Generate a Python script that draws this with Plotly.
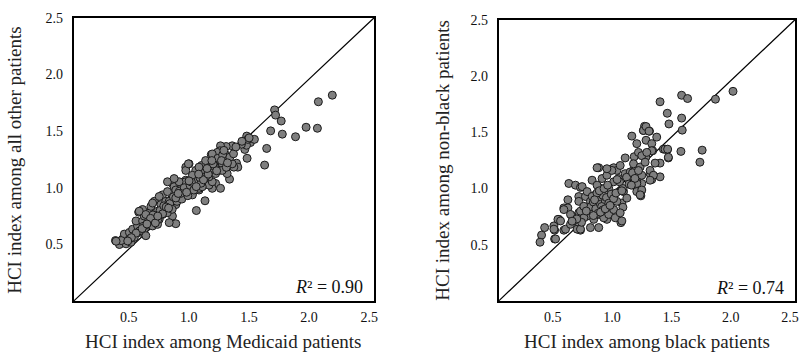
import plotly.graph_objects as go

# ---- Panel A: Medicaid vs all other patients ----
medicaid_x = [2.152, 2.036, 2.028, 1.934, 1.846, 1.736, 1.727, 1.639, 1.672, 1.680, 1.606, 1.589,
              1.443, 1.440, 1.471, 1.504, 1.424, 1.438, 1.396, 1.449, 1.319, 1.269, 1.222, 1.217,
              1.291, 1.355, 1.366, 1.297, 1.333, 1.264, 1.195, 1.145, 1.181, 1.236, 1.140, 1.098,
              1.209, 1.277, 1.153, 1.126, 1.070, 1.016, 1.065, 0.960, 0.933, 1.181, 1.222, 1.153,
              1.043, 1.098, 1.002, 0.933, 0.877, 0.822,
              0.348, 0.408, 0.381, 0.436, 0.477, 0.422, 0.464, 0.505, 0.491, 0.532, 0.546, 0.588,
              0.519, 0.574, 0.541, 0.588, 0.615, 0.629, 0.657, 0.643, 0.671, 0.698, 0.684, 0.726,
              0.739, 0.739, 0.712, 0.781, 0.767, 0.795, 0.809, 0.781, 0.836, 0.863, 0.850, 0.767,
              0.850, 0.892, 0.905, 0.933, 0.960, 0.988, 1.021, 1.093, 1.002, 1.043, 1.084, 1.126,
              1.153, 0.933, 0.988, 0.877, 0.836, 0.574, 0.464, 0.395, 0.601, 0.657, 0.698, 0.822,
              0.795,
              0.955, 1.043, 1.098, 1.153, 0.546, 0.353, 0.795, 0.712, 0.657, 0.601, 0.850, 0.877,
              0.960, 1.016, 0.988, 1.070, 1.126, 1.181, 1.236, 1.264, 1.319,
              0.62, 0.66, 0.70, 0.72, 0.75, 0.78, 0.80, 0.83, 0.86, 0.88, 0.90, 0.92, 0.95, 0.97,
              1.00, 1.03, 1.06, 1.10, 1.13, 1.17, 1.20, 1.24, 1.27, 1.30, 1.33, 0.55, 0.58, 0.52,
              0.48, 0.45,
              0.64, 0.68, 0.74, 0.77, 0.82, 0.85, 0.89, 0.94, 0.98, 1.02, 1.05, 1.08, 1.12, 1.16,
              1.19, 1.23, 1.28, 1.35, 1.40, 1.46, 0.57, 0.61, 0.70, 0.79, 0.87, 0.96, 1.04, 1.11,
              1.15, 1.25]
others_y = [1.817, 1.759, 1.525, 1.534, 1.450, 1.473, 1.589, 1.502, 1.687, 1.641, 1.347, 1.200,
            1.260, 1.456, 1.399, 1.427, 1.338, 1.375, 1.384, 1.427, 1.370, 1.364, 1.370, 1.326,
            1.263, 1.217, 1.182, 1.076, 1.182, 1.292, 1.312, 1.292, 1.240, 1.211, 1.211, 1.182,
            1.153, 1.125, 1.139, 1.096, 1.125, 1.153, 1.197, 1.211, 1.182, 1.038, 0.995, 0.995,
            0.980, 1.038, 1.067, 1.067, 1.038, 1.038,
            0.534, 0.548, 0.499, 0.505, 0.519, 0.591, 0.606, 0.562, 0.634, 0.663, 0.606, 0.634,
            0.707, 0.707, 0.785, 0.750, 0.677, 0.779, 0.721, 0.836, 0.880, 0.793, 0.750, 0.851,
            0.937, 0.764, 0.721, 0.966, 0.880, 0.822, 0.894, 1.053, 1.009, 0.937, 0.851, 0.779,
            0.683, 1.009, 0.952, 1.053, 0.995, 0.952, 0.799, 0.885, 1.053, 0.995, 1.081, 1.023,
            1.053, 1.153, 1.110, 1.053, 1.081, 0.808, 0.548, 0.534, 0.577, 0.663, 0.677, 0.750,
            0.692,
            1.211, 1.182, 1.240, 1.298, 0.793, 0.528, 0.880, 0.923, 0.865, 0.764, 0.980, 0.923,
            0.980, 1.038, 0.937, 1.009, 1.096, 1.125, 1.153, 1.240, 1.211,
            0.70, 0.76, 0.72, 0.80, 0.84, 0.78, 0.86, 0.92, 0.88, 0.97, 0.90, 1.00, 0.93, 1.02,
            0.98, 1.06, 1.04, 1.10, 1.15, 1.19, 1.26, 1.29, 1.18, 1.27, 1.30, 0.62, 0.66, 0.60,
            0.56, 0.53,
            0.73, 0.69, 0.77, 0.83, 0.81, 0.91, 0.95, 0.96, 1.05, 1.01, 1.09, 1.07, 1.12, 1.21,
            1.15, 1.24, 1.22, 1.36, 1.41, 1.44, 0.64, 0.68, 0.75, 0.82, 0.95, 1.06, 1.12, 1.17,
            1.24, 1.33]

# ---- Panel B: black vs non-black patients ----
black_x = [1.977, 1.829, 1.544, 1.594, 1.362, 1.423, 1.544, 1.437, 1.549, 1.538, 1.717, 1.698,
           1.432, 1.423, 1.390, 1.362, 1.362, 1.320, 1.334, 1.231, 1.222, 1.273, 1.124, 1.166,
           1.244, 1.292, 1.300, 1.242, 1.144, 1.068, 0.845, 0.923, 0.971, 0.998, 0.593, 0.649,
           0.691, 1.200, 1.200, 1.166, 1.208, 1.292, 1.278, 1.040, 1.049, 1.032, 0.914, 0.864,
           0.831, 0.677, 0.671, 0.691, 0.585, 0.551, 0.509, 0.467, 0.473, 0.551, 0.473, 0.389,
           0.363, 0.350, 0.585, 0.621, 0.677,
           0.705, 0.467, 0.481, 0.565, 0.501, 0.551, 0.607, 0.523, 0.635, 0.663, 0.691, 0.677,
           0.733, 0.747, 0.775, 0.691, 0.747, 0.775, 0.817, 0.845, 0.845, 0.887, 0.803, 0.859,
           0.887, 0.914, 0.929, 0.971, 0.929, 0.956, 0.998, 0.984, 1.040, 1.026, 1.012, 1.068,
           1.110, 1.166, 1.166, 1.208, 1.138, 1.054, 1.082, 0.789, 0.831, 0.873, 0.914, 0.956,
           0.971, 0.719, 0.607, 0.775, 0.845,
           1.222, 1.244, 1.269, 1.292, 1.404, 1.426, 1.432, 1.180, 1.208, 1.250, 1.138, 1.194,
           1.236, 1.278, 1.306, 1.026, 0.914, 1.110, 1.166, 1.208, 1.194, 1.278,
           0.78, 0.80, 0.82, 0.84, 0.86, 0.88, 0.90, 0.79, 0.83, 0.87, 0.91, 0.85, 0.81, 0.89,
           0.93, 0.95, 0.97, 0.92, 0.88, 0.84, 0.80, 0.86, 0.90, 0.94, 0.99, 1.02, 1.05, 1.08,
           1.10, 1.13, 0.72, 0.74, 0.70, 0.66, 0.62, 1.00, 1.04, 1.15, 1.18, 1.12]
nonblack_y = [1.864, 1.794, 1.829, 1.800, 1.771, 1.669, 1.626, 1.574, 1.519, 1.330, 1.341, 1.234,
              1.272, 1.344, 1.350, 1.104, 1.226, 1.226, 1.457, 1.553, 1.516, 1.510, 1.466, 1.399,
              1.429, 1.399, 1.336, 1.278, 1.283, 1.272, 1.185, 1.170, 1.185, 1.161, 1.045, 1.030,
              1.010, 0.967, 0.935, 1.002, 1.045, 1.080, 1.132, 0.871, 0.834, 0.697, 0.726, 0.877,
              1.185, 0.784, 0.639, 0.630, 0.900, 0.828, 0.726, 0.668, 0.630, 0.630, 0.552, 0.653,
              0.586, 0.523, 0.828, 0.755, 0.929,
              1.017, 0.639, 0.552, 0.639, 0.726, 0.813, 0.770, 0.712, 0.712, 0.639, 0.639, 0.886,
              0.929, 0.973, 0.886, 0.799, 0.755, 0.813, 0.944, 0.856, 0.770, 0.740, 0.726, 1.002,
              0.929, 0.842, 0.770, 0.813, 1.002, 0.929, 0.886, 0.740, 0.712, 0.784, 1.089, 1.132,
              1.045, 0.973, 1.060, 1.118, 1.161, 0.973, 0.915, 1.074, 1.030, 1.089, 1.118, 1.161,
              1.060, 0.842, 0.682, 0.653, 0.653,
              1.516, 1.551, 1.510, 1.336, 1.350, 1.350, 1.278, 1.321, 1.292, 1.321, 1.220, 1.191,
              1.234, 1.161, 1.118, 1.205, 1.176, 1.147, 1.045, 0.987, 0.944, 1.074,
              0.84, 0.88, 0.82, 0.90, 0.86, 0.94, 0.88, 0.93, 0.96, 0.84, 0.92, 0.98, 0.90, 1.00,
              0.87, 0.95, 0.91, 1.03, 0.81, 0.78, 0.76, 0.79, 0.82, 0.85, 0.96, 1.06, 1.00, 1.10,
              1.04, 1.14, 0.74, 0.80, 0.70, 0.73, 0.71, 1.08, 0.98, 1.09, 1.16, 1.03]

tick_vals = [0.5, 1.0, 1.5, 2.0, 2.5]
tick_text = ["0.5", "1.0", "1.5", "2.0", "2.5"]
r2_labels = ["<i>R</i>² = 0.90", "<i>R</i>² = 0.74"]
x_titles = ["HCI index among Medicaid patients", "HCI index among black patients"]
y_titles = ["HCI index among all other patients", "HCI index among non-black patients"]

W, H = 805, 354
FONT = "Liberation Serif, Times New Roman, serif"

marker = dict(size=8, color="#7f7f7f", line=dict(color="#1a1a1a", width=1))

fig = go.Figure()
fig.add_trace(go.Scatter(x=medicaid_x, y=others_y, mode="markers", marker=marker,
                         xaxis="x", yaxis="y", showlegend=False))
fig.add_trace(go.Scatter(x=black_x, y=nonblack_y, mode="markers", marker=marker,
                         xaxis="x2", yaxis="y2", showlegend=False))

# panel pixel boxes: (left, right, top, bottom)
boxes = [(74, 376, 11, 300), (501, 799, 13, 300)]

def axis_common():
    return dict(range=[0, 2.5], tickvals=tick_vals, ticktext=tick_text, showgrid=False,
                zeroline=False, showline=True, mirror=True, linecolor="black", linewidth=1.5,
                ticks="", tickfont=dict(family=FONT, size=14, color="#111"))

for i, (l, r, t, b) in enumerate(boxes):
    sfx = "" if i == 0 else "2"
    xa = axis_common()
    xa.update(domain=[l / W, r / W], anchor="y" + sfx, ticklabelshift=-5, ticklabelstandoff=2)
    ya = axis_common()
    ya.update(domain=[(H - b) / H, (H - t) / H], anchor="x" + sfx, ticklabelstandoff=6)
    fig.update_layout(**{"xaxis" + sfx: xa, "yaxis" + sfx: ya})
    # diagonal y = x
    fig.add_shape(type="line", x0=0, y0=0, x1=2.5, y1=2.5, xref="x" + sfx, yref="y" + sfx,
                  line=dict(color="black", width=1.2), layer="below")
    fig.add_annotation(text=r2_labels[i], x=2.42, y=0.12, xref="x" + sfx, yref="y" + sfx,
                       xanchor="right", yanchor="middle", showarrow=False,
                       font=dict(family=FONT, size=18, color="#111"))
    fig.add_annotation(text=x_titles[i], x=(l + r) / 2 / W, y=(H - 341) / H, xref="paper",
                       yref="paper", xanchor="center", yanchor="middle", showarrow=False,
                       font=dict(family=FONT, size=19, color="#222"))
    fig.add_annotation(text=y_titles[i], x=(15 if i == 0 else 445) / W, y=(H - 156) / H,
                       xref="paper", yref="paper", xanchor="center", yanchor="middle",
                       textangle=-90, showarrow=False,
                       font=dict(family=FONT, size=19, color="#222"))

fig.update_layout(width=W, height=H, margin=dict(l=0, r=0, t=0, b=0),
                  paper_bgcolor="white", plot_bgcolor="white")

fig.write_html("out.html")
